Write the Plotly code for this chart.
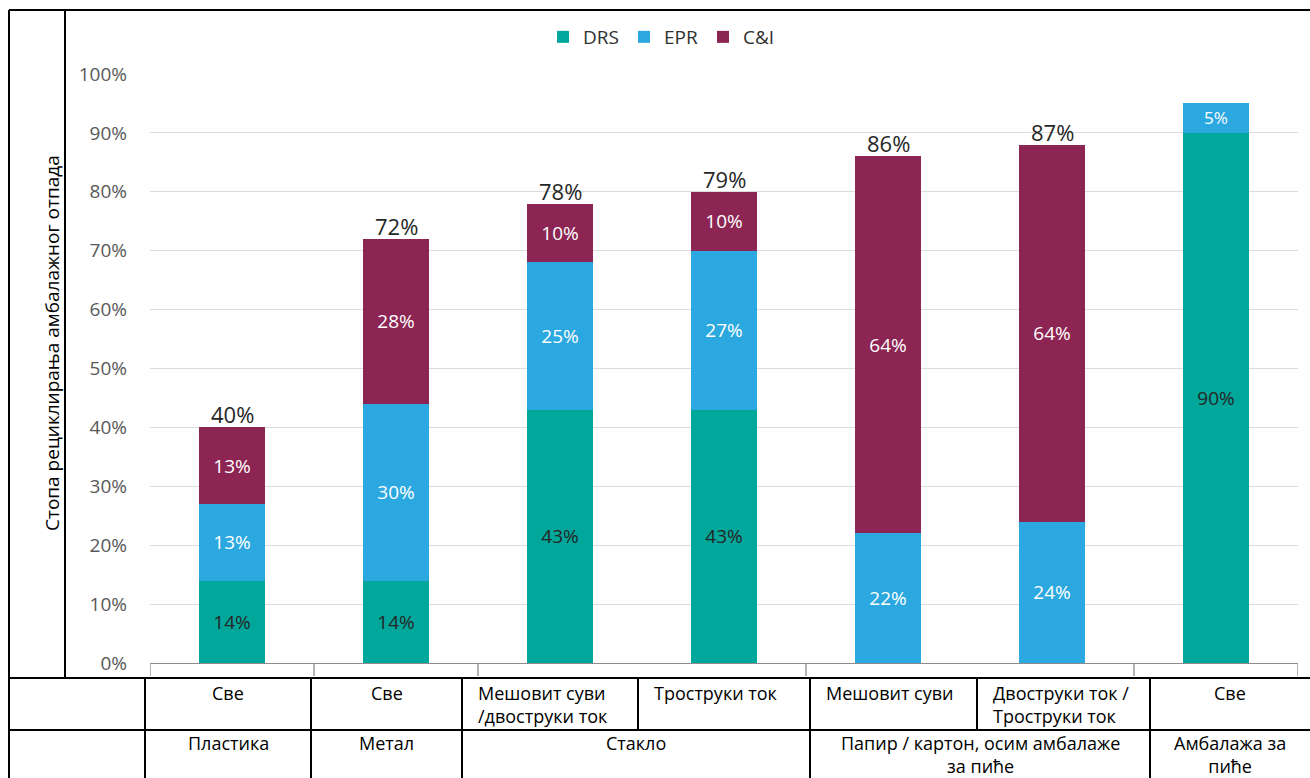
import plotly.graph_objects as go

# Series values (% of packaging waste recycled), one entry per column
drs = [14, 14, 43, 43, 0, 0, 90]
epr = [13, 30, 25, 27, 22, 24, 5]
ci = [13, 28, 10, 10, 64, 64, 0]
totals = [40, 72, 78, 79, 86, 87, None]

# Table labels under the axis
subgroups = ["Све", "Све", "Мешовит суви<br>/двоструки ток", "Троструки ток",
             "Мешовит суви", "Двоструки ток /<br>Троструки ток", "Све"]
groups = ["Пластика", "Метал", "Стакло",
          "Папир / картон, осим амбалаже<br>за пиће", "Амбалажа за<br>пиће"]
group_sizes = [1, 1, 2, 2, 1]

y_title = "Стопа рециклирања амбалажног отпада"
series_names = ["DRS", "EPR", "C&I"]
tick_vals = list(range(0, 101, 10))
tick_text = [f"{v}%" for v in tick_vals]

# ---- geometry (pixels) ----
W, H = 1310, 778
PL, PR, PT, PB = 150, 1298, 74, 663          # plot area
FONT = "Open Sans"
colors = ["#00A79A", "#2CA8E0", "#8C2553"]
label_colors = ["#262626", "white", "white"]

x = list(range(len(drs)))


def px_x(p):
    return (p - PL) / (PR - PL)


def px_y(p):
    return (PB - p) / (PB - PT)


fig = go.Figure()
for name, vals, col, lc in zip(series_names, [drs, epr, ci], colors, label_colors):
    fig.add_trace(go.Bar(
        x=x, y=vals, name=name, width=0.4,
        marker=dict(color=col, line=dict(width=0)),
        text=[f"{v}%" if v else "" for v in vals],
        textposition="inside", insidetextanchor="middle", textangle=0,
        insidetextfont=dict(family=FONT, size=19, color=lc),
        hoverinfo="skip",
    ))

annotations = []
# totals above the stacks
for i, t in enumerate(totals):
    if t is None:
        continue
    top = drs[i] + epr[i] + ci[i]
    annotations.append(dict(x=i, y=top, xref="x", yref="y", text=f"{t}%",
                            showarrow=False, yanchor="bottom", yshift=-4,
                            font=dict(family=FONT, size=22, color="#262626")))

# rotated axis title
annotations.append(dict(x=px_x(37), y=px_y(343), xref="paper", yref="paper",
                        text=y_title, textangle=-90, showarrow=False,
                        font=dict(family=FONT, size=19, color="black")))

# ---- table below the chart ----
ROW1_TOP, ROW2_TOP, BOTTOM = 678, 730, 778
row1_edges = [145, 311, 462, 638, 810, 977, 1150, 1310]
row1_align = ["center", "center", "left", "left", "left", "left", "center"]
row2_edges = [145, 311, 462, 810, 1150, 1310]

for j, txt in enumerate(subgroups):
    a, b = row1_edges[j], row1_edges[j + 1]
    if row1_align[j] == "left":
        xa, anchor = a + 14, "left"
    else:
        xa, anchor = (a + b) / 2, "center"
    annotations.append(dict(x=px_x(xa), y=px_y(ROW1_TOP + 1), xref="paper", yref="paper",
                            text=txt, showarrow=False, xanchor=anchor, yanchor="top",
                            align="left", font=dict(family=FONT, size=18, color="black")))
for j, txt in enumerate(groups):
    a, b = row2_edges[j], row2_edges[j + 1]
    annotations.append(dict(x=px_x((a + b) / 2), y=px_y(ROW2_TOP - 1), xref="paper", yref="paper",
                            text=txt, showarrow=False, xanchor="center", yanchor="top",
                            align="center", font=dict(family=FONT, size=18, color="black")))

shapes = []
line = dict(color="black", width=2)


def hline(y, x0, x1):
    shapes.append(dict(type="line", xref="paper", yref="paper",
                       x0=px_x(x0), x1=px_x(x1), y0=px_y(y), y1=px_y(y), line=line))


def vline(xp, y0, y1):
    shapes.append(dict(type="line", xref="paper", yref="paper",
                       x0=px_x(xp), x1=px_x(xp), y0=px_y(y0), y1=px_y(y1), line=line))


hline(10, 9, W)
hline(ROW1_TOP, 9, W)
hline(ROW2_TOP, 9, W)
vline(9, 10, BOTTOM)
vline(65, 10, ROW1_TOP)
for e in row1_edges[:-1]:
    vline(e, ROW1_TOP, ROW2_TOP)
for e in row2_edges[:-1]:
    vline(e, ROW2_TOP, BOTTOM)

# group boundary ticks on the category axis
bounds = [-0.5]
for s in group_sizes:
    bounds.append(bounds[-1] + s)
for bnd in bounds:
    shapes.append(dict(type="line", xref="x", yref="paper", x0=bnd, x1=bnd,
                       y0=0, y1=px_y(676), line=dict(color="#8C8C8C", width=1.3)))

fig.update_layout(
    width=W, height=H, barmode="stack", bargap=0.6,
    paper_bgcolor="white", plot_bgcolor="white",
    margin=dict(l=PL, r=W - PR, t=PT, b=H - PB, autoexpand=False),
    font=dict(family=FONT),
    legend=dict(orientation="h", xref="container", yref="container",
                x=0.505, y=1 - 37 / H, xanchor="center", yanchor="middle",
                font=dict(family=FONT, size=19, color="#303030"),
                itemwidth=30, traceorder="normal"),
    xaxis=dict(range=[-0.5, len(x) - 0.5], showticklabels=False, showgrid=False,
               zeroline=False, showline=True, linecolor="#8C8C8C", linewidth=1.3,
               ticks="", fixedrange=True),
    yaxis=dict(range=[0, 100], tickvals=tick_vals, ticktext=tick_text,
               showgrid=True, gridcolor="#DCDCDC", gridwidth=1.3, zeroline=False,
               showline=False, ticks="", ticklabelstandoff=22,
               tickfont=dict(family=FONT, size=19, color="#595959"), fixedrange=True),
    annotations=annotations, shapes=shapes,
)

fig.write_html("out.html")
